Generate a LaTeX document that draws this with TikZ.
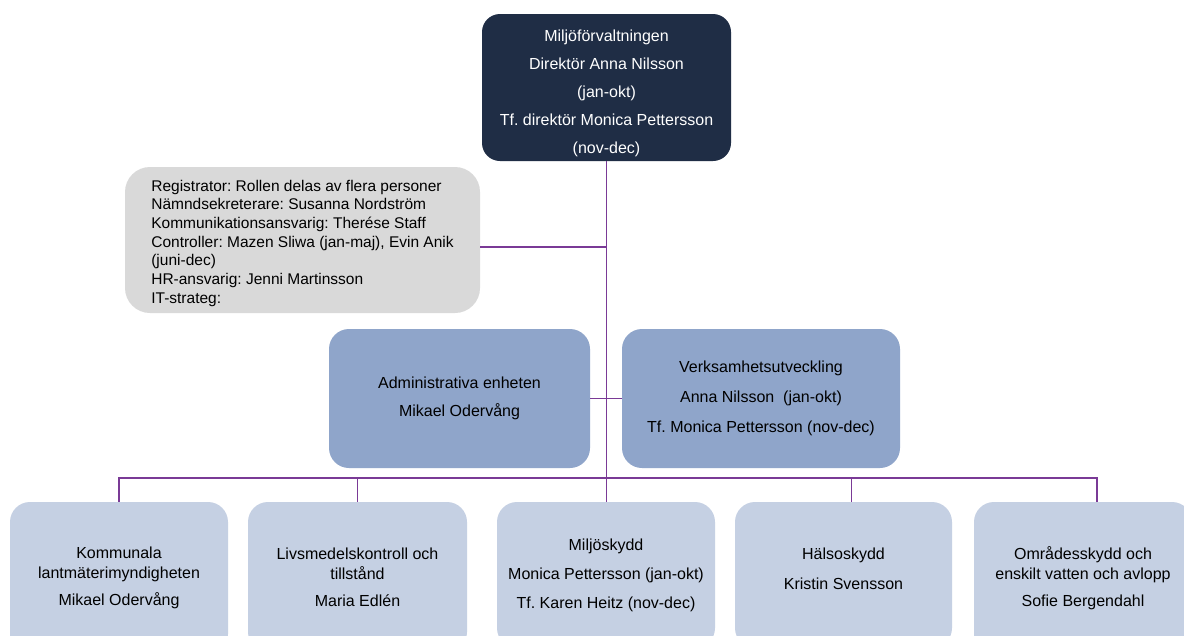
\documentclass[tikz,border=0pt]{standalone}
\usepackage{fontspec}
\setmainfont{Liberation Sans}
\frenchspacing
\definecolor{navyc}{HTML}{1F2D45}
\definecolor{grayc}{HTML}{D9D9D9}
\definecolor{midc}{HTML}{8FA5CA}
\definecolor{lightc}{HTML}{C5D0E3}
\definecolor{linec}{HTML}{7A3A96}
\begin{document}
\begin{tikzpicture}[x=1pt,y=-1pt,
  box/.style={rounded corners=20pt, inner sep=0pt, align=center, font=\frenchspacing\fontsize{16}{20}\selectfont},
  topbox/.style={box, fill=navyc, text=white, rounded corners=18pt},
  staffbox/.style={box, fill=grayc, align=left, rounded corners=25pt, font=\frenchspacing\fontsize{15.5}{18.7}\selectfont},
  unitbox/.style={box, fill=midc, minimum height=139pt},
  deptbox/.style={box, fill=lightc},
  conn/.style={draw=linec, line width=1.4pt}]
\fill[white] (0,0) rectangle (1184,635);
\useasboundingbox (0,0) rectangle (1184,635);

\node[topbox, minimum width=249pt, minimum height=147pt] (dir) at (606.5,87.5)
  {\rule{0pt}{23pt}Miljöförvaltningen\\[8pt]Direktör Anna Nilsson\\[8pt](jan-okt)\\[8pt]Tf. direktör Monica Pettersson\\[8pt](nov-dec)};

\node[staffbox, minimum width=355pt, minimum height=146pt] (staff) at (302.5,240)
  {\rule{0pt}{17.5pt}Registrator: Rollen delas av flera personer\\Nämndsekreterare: Susanna Nordström\\Kommunikationsansvarig: Therése Staff\\Controller: Mazen Sliwa (jan-maj), Evin Anik\\(juni-dec)\\HR-ansvarig: Jenni Martinsson\\IT-strateg:};

\node[unitbox, minimum width=261pt] (adm) at (459.5,398.5)
  {Administrativa enheten\\[8pt]Mikael Odervång};
\node[unitbox, minimum width=278pt] (ver) at (761,398.5)
  {Verksamhetsutveckling\\[10pt]Anna Nilsson~ (jan-okt)\\[10pt]Tf. Monica Pettersson (nov-dec)};

\node[deptbox, minimum width=218pt, minimum height=152pt] (kom) at (119,578)
  {Kommunala\\lantmäterimyndigheten\\[7pt]Mikael Odervång};
\node[deptbox, minimum width=219pt, minimum height=150pt] (liv) at (357.5,577)
  {Livsmedelskontroll och\\tillstånd\\[7pt]Maria Edlén};
\node[deptbox, minimum width=218pt, minimum height=146pt] (mil) at (606,575)
  {Miljöskydd\\[9pt]Monica Pettersson (jan-okt)\\[9pt]Tf. Karen Heitz (nov-dec)\rule[-2pt]{0pt}{2pt}};
\node[deptbox, minimum width=217pt, minimum height=146pt] (hal) at (843.5,575)
  {Hälsoskydd\\[10pt]Kristin Svensson\rule[-12pt]{0pt}{12pt}};
\node[deptbox, minimum width=218pt, minimum height=152pt] (omr) at (1083,578)
  {Områdesskydd och\\enskilt vatten och avlopp\\[7pt]Sofie Bergendahl};

\coordinate (bus) at (0,478);
\coordinate (hd) at ([xshift=8pt]hal.north);
\coordinate (od) at ([xshift=14pt]omr.north);
\coordinate (sj) at ([yshift=-7pt]staff.east);

\draw[conn] (dir.south) -- (dir.south |- mil.north);
\draw[conn] (sj) -- (sj -| dir.south);
\draw[conn] (adm.east) -- (ver.west);
\draw[conn] (kom.north) -- (kom.north |- bus) -- (od |- bus) -- (od);
\draw[conn] (liv.north) -- (liv.north |- bus);
\draw[conn] (hd) -- (hd |- bus);
\end{tikzpicture}
\end{document}
